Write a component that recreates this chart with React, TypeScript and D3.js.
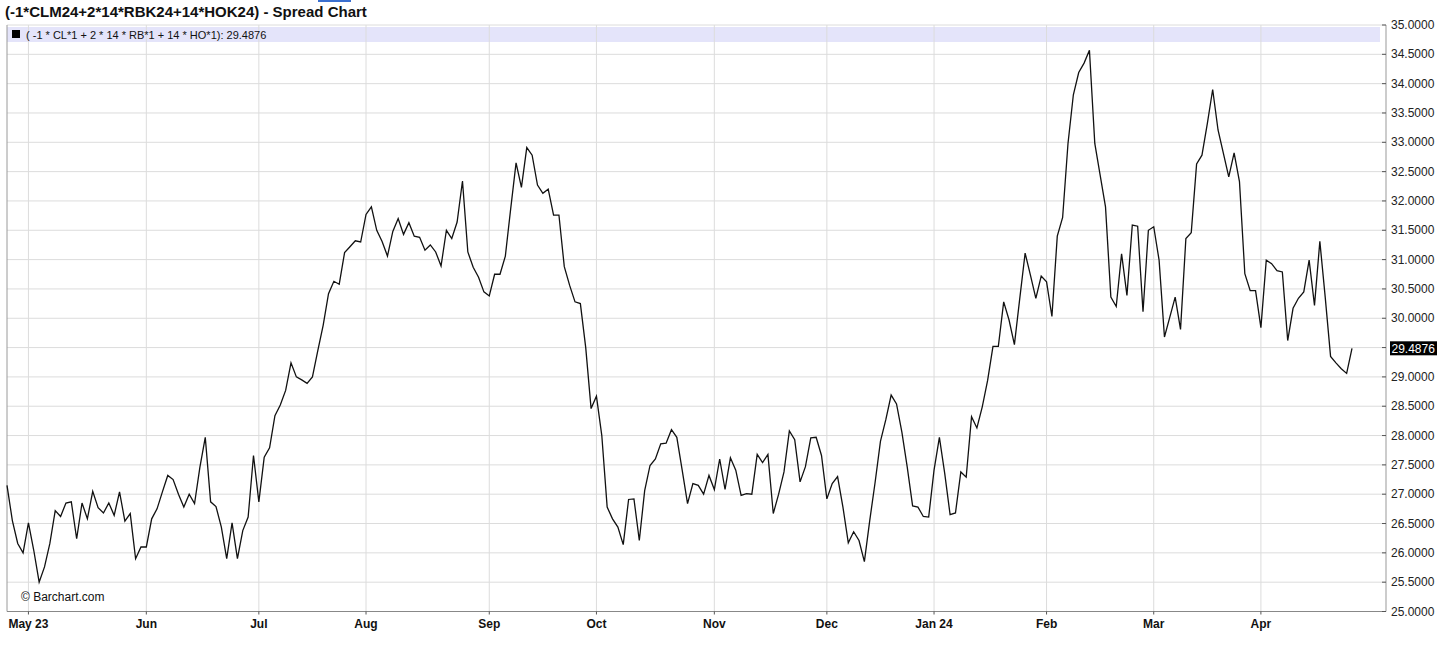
import React from "react";
import * as d3 from "d3";

const title = "(-1*CLM24+2*14*RBK24+14*HOK24) - Spread Chart";
const legendLabel = "( -1 * CL*1 + 2 * 14 * RB*1 + 14 * HO*1): 29.4876";
const lastValueLabel = "29.4876";

// daily closes, trading-day index 0 = 2023-04-25 ... 251 = 2024-04-24
const values: number[] = [
  27.15, 26.55, 26.16, 26.0, 26.51, 26.04, 25.5, 25.76, 26.16, 26.72,
  26.62, 26.85, 26.87, 26.24, 26.85, 26.58, 27.05, 26.77, 26.68, 26.85,
  26.64, 27.04, 26.54, 26.67, 25.9, 26.1, 26.1, 26.58, 26.75, 27.04,
  27.32, 27.25, 27.0, 26.78, 27.0, 26.84, 27.46, 27.97, 26.87, 26.79,
  26.44, 25.9, 26.51, 25.9, 26.38, 26.61, 27.66, 26.87, 27.63, 27.79,
  28.34, 28.52, 28.77, 29.24, 29.0, 28.95, 28.89, 29.0, 29.45, 29.88,
  30.42, 30.63, 30.58, 31.12, 31.22, 31.32, 31.3, 31.77, 31.9, 31.5,
  31.31, 31.06, 31.48, 31.7, 31.43, 31.63, 31.4, 31.38, 31.16, 31.25,
  31.13, 30.89, 31.5, 31.36, 31.64, 32.34, 31.13, 30.87, 30.7, 30.45,
  30.38, 30.75, 30.75, 31.06, 31.87, 32.65, 32.23, 32.91, 32.78, 32.27,
  32.13, 32.2, 31.76, 31.76, 30.88, 30.56, 30.28, 30.25, 29.5, 28.46,
  28.67, 28.0, 26.78, 26.58, 26.44, 26.14, 26.91, 26.92, 26.21, 27.06,
  27.49, 27.6, 27.86, 27.87, 28.1, 27.97, 27.41, 26.84, 27.18, 27.15,
  27.0, 27.32, 27.08, 27.6, 27.08, 27.62, 27.41, 26.98, 27.01, 27.0,
  27.68, 27.54, 27.68, 26.67, 27.0, 27.38, 28.08, 27.93, 27.21, 27.47,
  27.96, 27.97, 27.66, 26.92, 27.18, 27.3, 26.78, 26.17, 26.36, 26.21,
  25.85, 26.55, 27.2, 27.9, 28.27, 28.69, 28.54, 28.06, 27.46, 26.8,
  26.78, 26.62, 26.61, 27.41, 27.97, 27.35, 26.65, 26.68, 27.38, 27.29,
  28.32, 28.13, 28.49, 28.94, 29.52, 29.52, 30.28, 29.97, 29.55, 30.34,
  31.11, 30.73, 30.34, 30.72, 30.62, 30.03, 31.4, 31.72, 32.98, 33.81,
  34.19, 34.35, 34.57, 32.98, 32.44, 31.9, 30.36, 30.2, 31.1, 30.39,
  31.59, 31.57, 30.11, 31.5, 31.56, 30.99, 29.68, 30.02, 30.36, 29.81,
  31.36, 31.46, 32.63, 32.78, 33.32, 33.9, 33.21, 32.81, 32.41, 32.82,
  32.33, 30.76, 30.47, 30.47, 29.84, 30.99, 30.93, 30.81, 30.79, 29.62,
  30.17, 30.34, 30.45, 30.99, 30.22, 31.31, 30.36, 29.35, 29.24, 29.14,
  29.06, 29.4876,
];

// month-start trading-day indices and labels
const monthTickIndex: number[] = [4, 26, 47, 67, 90, 110, 132, 153, 173, 194, 214, 234];
const monthTickLabel: string[] = ["May 23", "Jun", "Jul", "Aug", "Sep", "Oct", "Nov", "Dec", "Jan 24", "Feb", "Mar", "Apr"];

const yTicks: number[] = d3.range(25, 35.001, 0.5);

const W = 1456;
const H = 648;
const plotLeft = 7;
const plotRight = 1386;
const plotTop = 25;
const plotBottom = 611.5;
const font = "'Liberation Sans', Arial, sans-serif";

export default function App() {
  const x = d3.scaleLinear().domain([0, values.length - 1]).range([plotLeft, 1352]);
  const y = d3.scaleLinear().domain([25, 35]).range([plotBottom, plotTop]);
  const line = d3
    .line<number>()
    .x((_, i) => x(i))
    .y((d) => y(d));
  const last = values[values.length - 1];

  return (
    <svg
      width={W}
      height={H}
      style={{ position: "absolute", left: 0, top: 0, background: "#fff" }}
      fontFamily={font}
    >
      <rect x={318} y={0} width={33} height={2} fill="#3a6fd0" />
      <text x={5} y={17} fontSize={15} fontWeight="bold" fill="#111">
        {title}
      </text>

      {/* legend band */}
      <rect x={plotLeft} y={27} width={plotRight - plotLeft - 6} height={15} fill="#e4e4fa" />

      {/* horizontal grid */}
      {yTicks.map((t) => (
        <line key={"h" + t} x1={plotLeft} x2={plotRight} y1={y(t)} y2={y(t)} stroke="#dcdcdc" strokeWidth={1} />
      ))}
      {/* vertical grid */}
      {monthTickIndex.map((m) => (
        <line key={"v" + m} x1={x(m)} x2={x(m)} y1={plotTop} y2={plotBottom} stroke="#dcdcdc" strokeWidth={1} />
      ))}

      {/* legend content */}
      <rect x={12} y={30} width={8} height={8} fill="#000" />
      <text x={26} y={38.5} fontSize={11} fill="#111">
        {legendLabel}
      </text>

      {/* borders / axes */}
      <line x1={plotLeft} x2={plotLeft} y1={plotTop} y2={plotBottom} stroke="#9a9a9a" strokeWidth={1} />
      <line x1={plotLeft} x2={plotRight} y1={plotBottom} y2={plotBottom} stroke="#888" strokeWidth={1.2} />
      <line x1={plotRight} x2={plotRight} y1={plotTop} y2={plotBottom} stroke="#999" strokeWidth={1} />

      {/* right axis ticks & labels */}
      {yTicks.map((t) => (
        <g key={"yt" + t}>
          <line x1={plotRight - 4} x2={plotRight} y1={y(t)} y2={y(t)} stroke="#555" strokeWidth={1} />
          <text x={1391} y={y(t) + 4} fontSize={12} fill="#222">
            {t.toFixed(4)}
          </text>
        </g>
      ))}

      {/* bottom axis ticks & labels */}
      {monthTickIndex.map((m, i) => (
        <g key={"xt" + m}>
          <line x1={x(m)} x2={x(m)} y1={plotBottom} y2={plotBottom + 3} stroke="#555" strokeWidth={1} />
          <text x={x(m)} y={628} fontSize={12} fontWeight="bold" textAnchor="middle" fill="#111">
            {monthTickLabel[i]}
          </text>
        </g>
      ))}

      {/* data line */}
      <path d={line(values) || ""} fill="none" stroke="#111" strokeWidth={1.3} strokeLinejoin="miter" />

      {/* last value marker */}
      <rect x={1390} y={y(last) - 7} width={47} height={14} fill="#000" />
      <text x={1391.5} y={y(last) + 4.5} fontSize={12} fill="#fff">
        {lastValueLabel}
      </text>

      <text x={21} y={601} fontSize={12} fill="#111">
        © Barchart.com
      </text>
    </svg>
  );
}
